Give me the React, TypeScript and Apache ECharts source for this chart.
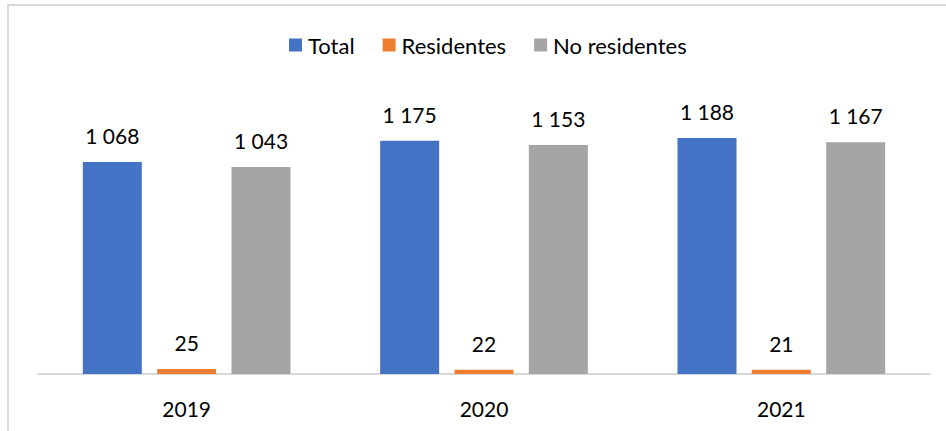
import React, { useEffect, useRef } from "react";
import * as echarts from "echarts";

const categories = ["2019", "2020", "2021"];
const totalValues = [1068, 1175, 1188];
const residentesValues = [25, 22, 21];
const noResidentesValues = [1043, 1153, 1167];
const seriesNames = ["Total", "Residentes", "No residentes"];

const fmt = (v: number) => {
  const s = String(v);
  return s.length > 3 ? s.slice(0, s.length - 3) + " " + s.slice(s.length - 3) : s;
};

export default function App() {
  const ref = useRef<HTMLDivElement>(null);
  useEffect(() => {
    const chart = echarts.init(ref.current!, undefined, { renderer: "svg" });
    const font = "Lato, 'Open Sans', sans-serif";
    const label = {
      show: true,
      position: "top" as const,
      distance: 16,
      color: "#000",
      fontSize: 21,
      fontFamily: font,
      formatter: (p: any) => fmt(p.value),
    };
    const mk = (name: string, data: number[], color: string) => ({
      name,
      type: "bar" as const,
      data,
      barWidth: 59,
      barGap: "26%",
      itemStyle: { color },
      label,
    });
    chart.setOption({
      animation: false,
      textStyle: { fontFamily: font },
      graphic: [
        {
          type: "rect",
          shape: { x: 8, y: 5, width: 960, height: 460 },
          style: { fill: "none", stroke: "#d9d9d9", lineWidth: 2 },
          silent: true,
        },
      ],
      legend: {
        top: 29,
        left: 284,
        itemWidth: 13,
        itemHeight: 13,
        itemGap: 28,
        icon: "rect",
        textStyle: { fontSize: 22, color: "#000", fontFamily: font, padding: [0, 0, 0, 1] },
        data: seriesNames,
      },
      grid: { left: 38, right: 16, top: 96, bottom: 57, containLabel: false },
      xAxis: {
        type: "category",
        data: categories,
        axisLine: { show: true, lineStyle: { color: "#d9d9d9", width: 2 } },
        axisTick: { show: false },
        axisLabel: { fontSize: 21, color: "#000", fontFamily: font, margin: 24 },
      },
      yAxis: {
        type: "value",
        min: 0,
        max: 1400,
        show: false,
        splitLine: { show: false },
      },
      series: [
        mk(seriesNames[0], totalValues, "#4472C4"),
        mk(seriesNames[1], residentesValues, "#ED7D31"),
        mk(seriesNames[2], noResidentesValues, "#A5A5A5"),
      ],
    });
    return () => chart.dispose();
  }, []);
  return (
    <div
      ref={ref}
      style={{ position: "fixed", left: 0, top: 0, width: 946, height: 431, background: "#fff" }}
    />
  );
}
